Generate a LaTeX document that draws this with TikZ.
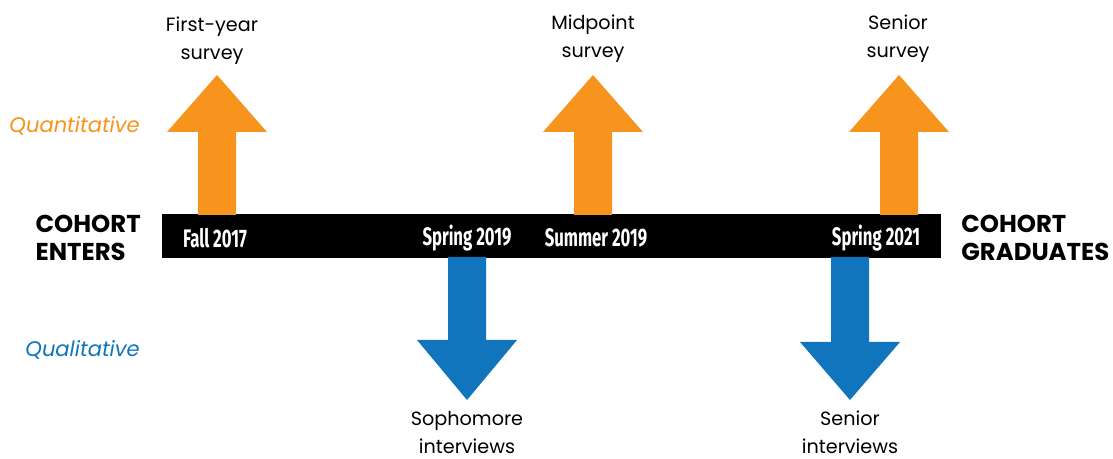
\documentclass[tikz,border=0pt]{standalone}
\usepackage{fontspec}
\setmainfont{Poppins}
\newfontfamily\condfont[FakeStretch=0.66]{Fira Sans}
\definecolor{qorange}{HTML}{F7941E}
\definecolor{qblue}{HTML}{1075BC}
\begin{document}
\begin{tikzpicture}[x=0.75pt,y=-0.75pt,
  lbl/.style={font=\fontsize{14.4}{21}\selectfont, align=center, inner sep=0pt, text=black},
  date/.style={font=\condfont\bfseries\fontsize{19}{20}\selectfont, text=white, inner sep=0pt},
  cohort/.style={font=\bfseries\fontsize{18.3}{20.5}\selectfont, align=left, inner sep=0pt},
  kind/.style={font=\itshape\fontsize{15.8}{18}\selectfont, inner sep=0pt},
  uparrow/.style={fill=qorange},
  downarrow/.style={fill=qblue}]
\useasboundingbox (0,0) rectangle (1113,459);
% timeline bar
\fill[black] (162,214) rectangle (941,258);
% orange arrows (up)
\foreach \cx in {217,593,899}{
  \fill[uparrow] (\cx-19,215) -- (\cx-19,132) -- (\cx-50,132) -- (\cx,75) -- (\cx+50,132) -- (\cx+19,132) -- (\cx+19,215) -- cycle;
}
% blue arrows (down)
\foreach \cx/\by in {467/340,850/342}{
  \fill[downarrow] (\cx-19,257) -- (\cx-19,\by) -- (\cx-50,\by) -- (\cx,400) -- (\cx+50,\by) -- (\cx+19,\by) -- (\cx+19,257) -- cycle;
}
% date labels
\node[date] (d1) at (215,238) {Fall 2017};
\node[date] (d2) at (467,238) {Spring 2019};
\node[date] (d3) at (596,238) {Summer 2019};
\node[date] (d4) at (876,238) {Spring 2021};
% survey labels
\node[lbl] (s1) at (212,41) {First-year\\survey};
\node[lbl] (s2) at (593,39) {Midpoint\\survey};
\node[lbl] (s3) at (898,39) {Senior\\survey};
% interview labels
\node[lbl] (i1) at (467,432) {Sophomore\\interviews};
\node[lbl] (i2) at (850,432) {Senior\\interviews};
% cohort labels
\node[cohort, anchor=east] (enter) at (141,238) {COHORT\\ENTERS};
\node[cohort, anchor=west] (grad) at (961,238) {COHORT\\GRADUATES};
% kind labels
\node[kind, text=qorange, anchor=east] (quant) at (140,126) {Quantitative};
\node[kind, text=qblue, anchor=east] (qual) at (140,350) {Qualitative};
\end{tikzpicture}
\end{document}
